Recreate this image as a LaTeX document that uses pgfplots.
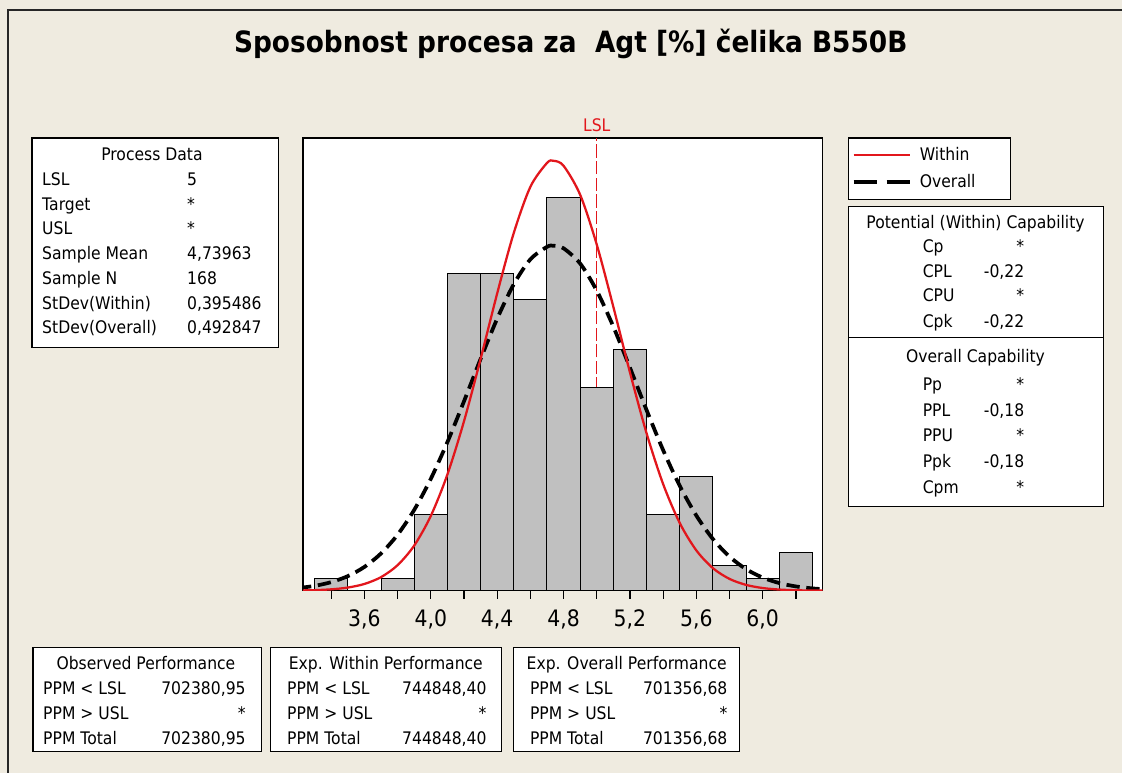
\documentclass[border=0pt]{standalone}
\usepackage{fontspec}
\setmainfont{DejaVu Sans}[FakeStretch=0.9]
\usepackage{pgfplots}
\pgfplotsset{compat=1.18}
\definecolor{bg}{RGB}{239,235,224}
\definecolor{mred}{RGB}{226,22,28}
\definecolor{bargray}{RGB}{192,192,192}
\newcommand\bx{\fontsize{13}{15}\selectfont}
\newcommand\T[4]{\node[anchor=#3,inner sep=0pt,font=\bx] at (#1,767-#2) {#4};}
\begin{document}
\begin{tikzpicture}[x=0.75pt,y=0.75pt]
\fill[bg] (0,0) rectangle (1123,773);
\draw[black!85, line width=0.8pt] (8,0) -- (8,763) -- (1123,763);
\node[font=\fontsize{22}{26}\selectfont\bfseries, anchor=center, inner sep=0pt] at (571,773-44) {Sposobnost procesa za\ \ Agt [\%] čelika B550B};

% ---- histogram axis ----
\begin{axis}[at={(227.25pt,136.5pt)}, anchor=south west, scale only axis,
  width=390pt, height=339.75pt,
  xmin=3.229, xmax=6.361, ymin=0, ymax=35.7,
  axis background/.style={fill=white},
  axis line style={line width=1.1pt},
  ytick=\empty,
  xtick={3.6,4.0,4.4,4.8,5.2,5.6,6.0},
  minor xtick={3.4,3.8,4.2,4.6,5.0,5.4,5.8,6.2},
  xtick pos=left, tick align=outside,
  major tick length=6pt, minor tick length=6pt,
  tick style={black, line width=0.9pt},
  /pgf/number format/assume math mode=true,
  xticklabel style={font=\fontsize{17}{20}\selectfont, yshift=-5pt, /pgf/number format/.cd, use comma, fixed, fixed zerofill, precision=1},
  clip mode=individual]
\addplot[mred, line width=1.1pt, dash pattern=on 10pt off 2.5pt] coordinates {(5,0) (5,35.7)};
\addplot[ybar, bar width=0.2, fill=bargray, draw=black, line width=0.75pt] coordinates {
(3.4,1) (3.8,1) (4.0,6) (4.2,25) (4.4,25) (4.6,23) (4.8,31) (5.0,16) (5.2,19) (5.4,6) (5.6,9) (5.8,2) (6.0,1) (6.2,3)};
\addplot[black, line width=2.8pt, dash pattern=on 10pt off 5pt, smooth] coordinates {
(3.2,0.207) (3.3,0.382) (3.4,0.677) (3.5,1.150) (3.6,1.877) (3.7,2.940) (3.8,4.418) (3.9,6.372) (4.0,8.820) (4.1,11.716) (4.2,14.935) (4.3,18.271) (4.4,21.450) (4.5,24.166) (4.6,26.128) (4.7,27.110) (4.74,27.198) (4.8,26.995) (4.9,25.796) (5.0,23.655) (5.1,20.818) (5.2,17.582) (5.3,14.250) (5.4,11.084) (5.5,8.273) (5.6,5.926) (5.7,4.074) (5.8,2.688) (5.9,1.701) (6.0,1.034) (6.1,0.603) (6.2,0.337) (6.3,0.181) (6.4,0.093)};
\addplot[mred, line width=1.7pt, smooth] coordinates {
(3.2,0.017) (3.3,0.045) (3.4,0.109) (3.5,0.249) (3.6,0.533) (3.7,1.071) (3.8,2.016) (3.9,3.560) (4.0,5.897) (4.1,9.164) (4.2,13.361) (4.3,18.273) (4.4,23.441) (4.5,28.210) (4.6,31.846) (4.7,33.724) (4.74,33.894) (4.8,33.502) (4.9,31.219) (5.0,27.290) (5.1,22.379) (5.2,17.214) (5.3,12.421) (5.4,8.408) (5.5,5.340) (5.6,3.180) (5.7,1.777) (5.8,0.931) (5.9,0.458) (6.0,0.211) (6.1,0.091) (6.2,0.037) (6.3,0.014) (6.4,0.005)};
\end{axis}
\node[mred, font=\bx, anchor=base, inner sep=0pt] at (597,773-126-6) {LSL};

% ---- Process Data box ----
\draw[fill=white, line width=0.9pt] (32,773-138) rectangle (279,773-348);
\T{152}{155}{base}{Process Data}
\T{42}{180}{base west}{LSL}            \T{187}{180}{base west}{5}
\T{42}{205}{base west}{Target}         \T{187}{205}{base west}{*}
\T{42}{229}{base west}{USL}            \T{187}{229}{base west}{*}
\T{42}{254}{base west}{Sample Mean}    \T{187}{254}{base west}{4,73963}
\T{42}{279}{base west}{Sample N}       \T{187}{279}{base west}{168}
\T{42}{304}{base west}{StDev(Within)}  \T{187}{304}{base west}{0,395486}
\T{42}{328}{base west}{StDev(Overall)} \T{187}{328}{base west}{0,492847}

% ---- legend ----
\draw[fill=white, line width=0.9pt] (849,773-138) rectangle (1011,773-200);
\draw[mred, line width=2pt] (854,773-155) -- (910,773-155);
\draw[black, line width=3pt] (854,773-182) -- (877,773-182);
\draw[black, line width=3pt] (887,773-182) -- (910,773-182);
\T{920}{155}{base west}{Within}
\T{920}{182}{base west}{Overall}

% ---- capability box ----
\draw[fill=white, line width=0.9pt] (849,773-207) rectangle (1104,773-507);
\draw[line width=0.9pt] (849,773-338) -- (1104,773-338);
\T{976}{223}{base}{Potential (Within) Capability}
\T{923}{247}{base west}{Cp}   \T{1025}{247}{base east}{*}
\T{923}{272}{base west}{CPL}  \T{1025}{272}{base east}{-0,22}
\T{923}{296}{base west}{CPU}  \T{1025}{296}{base east}{*}
\T{923}{322}{base west}{Cpk}  \T{1025}{322}{base east}{-0,22}
\T{976}{357}{base}{Overall Capability}
\T{923}{385}{base west}{Pp}   \T{1025}{385}{base east}{*}
\T{923}{411}{base west}{PPL}  \T{1025}{411}{base east}{-0,18}
\T{923}{436}{base west}{PPU}  \T{1025}{436}{base east}{*}
\T{923}{462}{base west}{Ppk}  \T{1025}{462}{base east}{-0,18}
\T{923}{488}{base west}{Cpm}  \T{1025}{488}{base east}{*}

% ---- bottom boxes ----
\draw[fill=white, line width=0.9pt] (33,773-648) rectangle (262,773-752);
\draw[fill=white, line width=0.9pt] (271,773-648) rectangle (502,773-752);
\draw[fill=white, line width=0.9pt] (514,773-648) rectangle (740,773-752);
\T{146}{664}{base}{Observed Performance}
\T{43}{689}{base west}{PPM < LSL}   \T{246}{689}{base east}{702380,95}
\T{43}{714}{base west}{PPM > USL}   \T{246}{714}{base east}{*}
\T{43}{739}{base west}{PPM Total}   \T{246}{739}{base east}{702380,95}
\T{386}{664}{base}{Exp. Within Performance}
\T{287}{689}{base west}{PPM < LSL}  \T{487}{689}{base east}{744848,40}
\T{287}{714}{base west}{PPM > USL}  \T{487}{714}{base east}{*}
\T{287}{739}{base west}{PPM Total}  \T{487}{739}{base east}{744848,40}
\T{627}{664}{base}{Exp. Overall Performance}
\T{530}{689}{base west}{PPM < LSL}  \T{728}{689}{base east}{701356,68}
\T{530}{714}{base west}{PPM > USL}  \T{728}{714}{base east}{*}
\T{530}{739}{base west}{PPM Total}  \T{728}{739}{base east}{701356,68}
\end{tikzpicture}
\end{document}
